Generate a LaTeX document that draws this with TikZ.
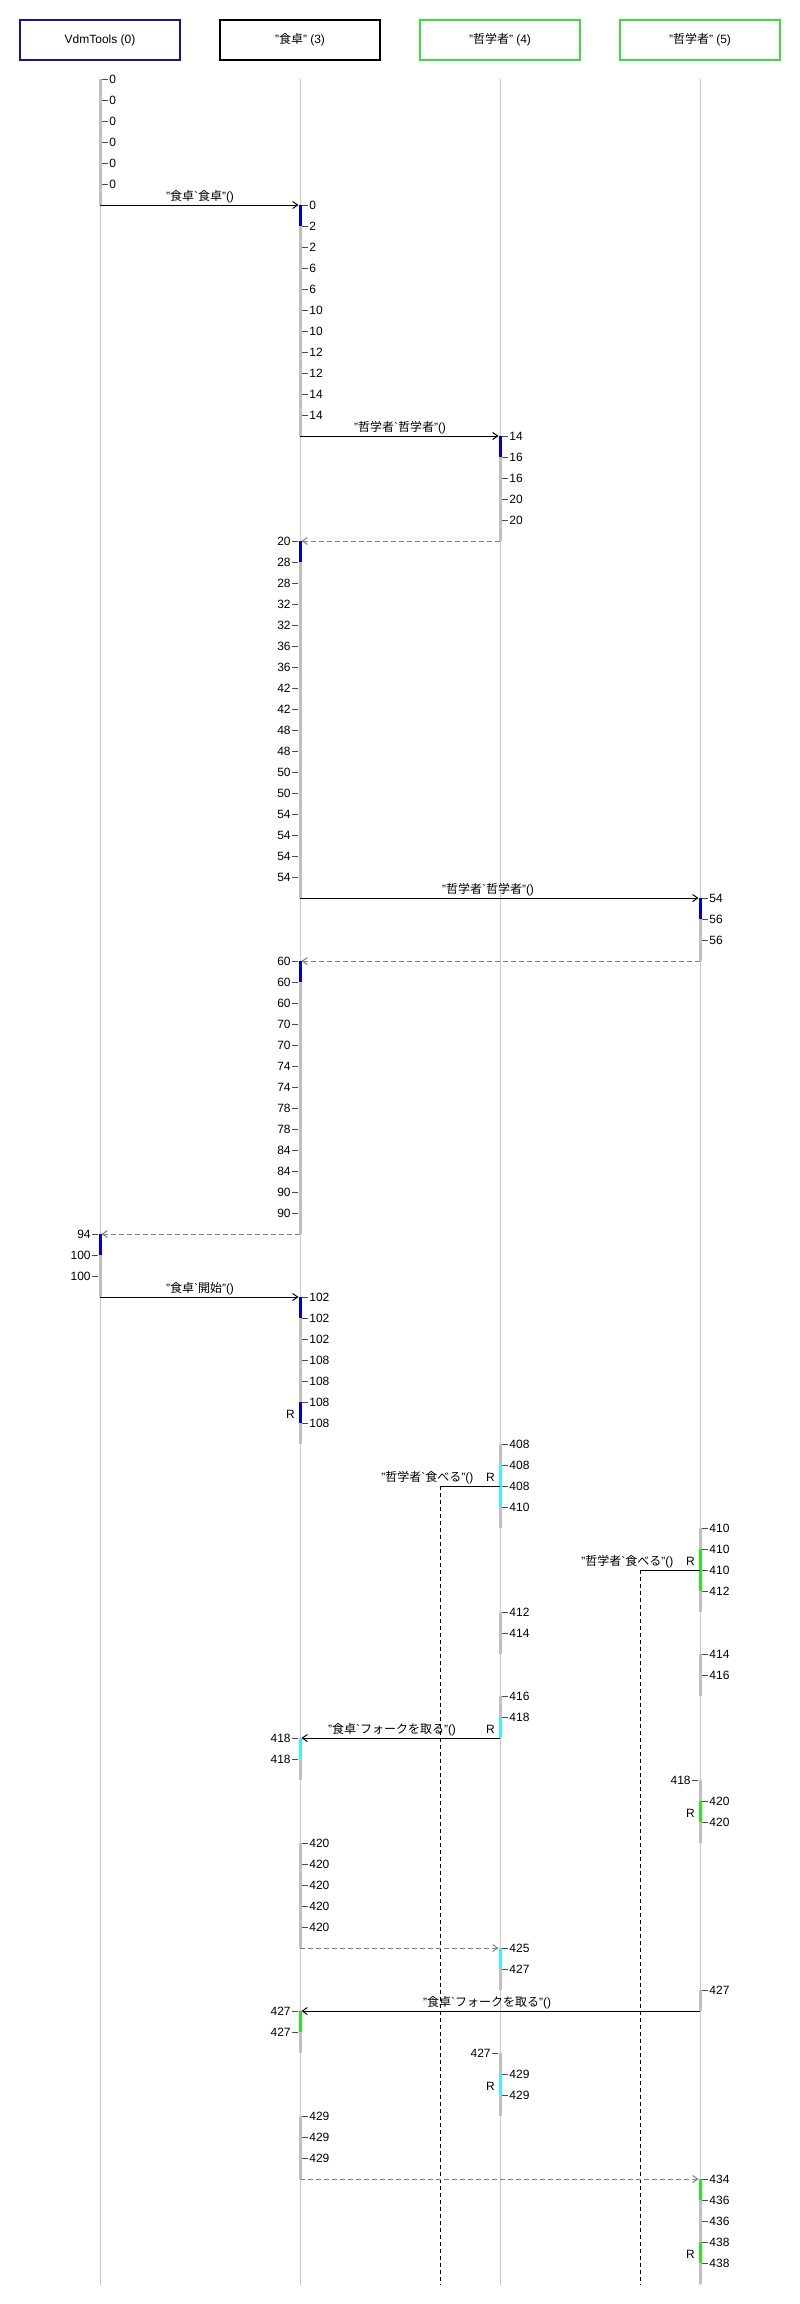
\documentclass[tikz,border=0pt]{standalone}
\usepackage{fontspec}
\defaultfontfeatures{}
\setmainfont{Liberation Sans}
\newfontfamily\jpfont{Noto Sans CJK JP}
\usetikzlibrary{arrows.meta}

\definecolor{hdblue}{RGB}{20,20,160}
\definecolor{hdgreen}{RGB}{60,220,60}
\definecolor{actblue}{RGB}{0,0,204}
\definecolor{actcyan}{RGB}{64,238,255}
\definecolor{actgreen}{RGB}{40,228,30}
\definecolor{lifegray}{RGB}{200,200,200}
\definecolor{bargray}{RGB}{192,192,192}
\definecolor{retgray}{RGB}{128,128,128}

\newcommand{\jp}[1]{{\jpfont #1}}
\newcommand{\rowy}[1]{79+21*(#1)}
% Zeitmarke rechts / links einer Lebenslinie
\newcommand{\tickr}[3]{\draw[tk] (#1+2,{\rowy{#2}}) -- (#1+8,{\rowy{#2}}) node[lbl, anchor=west] (tr#1k#2) {#3};}
\newcommand{\tickl}[3]{\draw[tk] (#1-2,{\rowy{#2}}) -- (#1-8,{\rowy{#2}}) node[lbl, anchor=east] (tl#1k#2) {#3};}
\newcommand{\seg}[4]{\draw[#1] (#2,{\rowy{#3}}) -- (#2,{\rowy{#4}});}
\newcommand{\rmark}[2]{\node[lbl, anchor=east] (r#1k#2) at (#1-4,{\rowy{#2+0.6}}) {R};}

\begin{document}
\begin{tikzpicture}[x=1pt, y=-1pt, font={\fontsize{12}{14}\selectfont},
    head/.style={draw, line width=2pt, minimum width=160pt, minimum height=40pt, inner sep=0pt},
    life/.style={draw=lifegray, line width=1pt},
    idle/.style={draw=bargray, line width=3pt},
    act/.style={line width=3pt},
    tk/.style={draw=black!70, line width=0.8pt},
    lbl/.style={inner sep=1pt},
    msg/.style={inner sep=1.5pt, anchor=south},
    call/.style={draw=black, line width=1pt, -{Straight Barb[length=5pt, width=7pt]}},
    invoke/.style={draw=black, line width=1pt},
    ret/.style={draw=retgray, line width=1pt, dash pattern=on 5pt off 3pt, -{Straight Barb[length=5pt, width=7pt]}},
    async/.style={draw=black, line width=1pt, dash pattern=on 4pt off 3pt}
  ]
  \path[fill=white] (0,0) rectangle (800,2304);
  \useasboundingbox (0,0) rectangle (800,2304);

  % Kopfkaesten
  \node[head, draw=hdblue]  (ha) at (100,40) {VdmTools (0)};
  \node[head, draw=black]   (hb) at (300,40) {"\jp{食卓}" (3)};
  \node[head, draw=hdgreen] (hc) at (500,40) {"\jp{哲学者}" (4)};
  \node[head, draw=hdgreen] (hd) at (700,40) {"\jp{哲学者}" (5)};

  % Lebenslinien
  \foreach \n/\x in {a/100, b/300, c/500, d/700} {
    \coordinate (top\n) at (\x,79);
    \coordinate (end\n) at (\x,2285);
    \draw[life] (top\n) -- (end\n);
  }

  % VdmTools (0)
  \seg{idle}{100}{0}{6}
  \seg{idle}{100}{55}{58}
  \seg{act, actblue}{100}{55}{56}
  \foreach \k in {0,...,5} {\tickr{100}{\k}{0}}
  \foreach \k/\v in {55/94, 56/100, 57/100} {\tickl{100}{\k}{\v}}

  % "食卓" (3)
  \seg{idle}{300}{6}{17}
  \seg{act, actblue}{300}{6}{7}
  \foreach \k/\v in {6/0, 7/2, 8/2, 9/6, 10/6, 11/10, 12/10, 13/12, 14/12, 15/14, 16/14} {\tickr{300}{\k}{\v}}
  \seg{idle}{300}{22}{39}
  \seg{act, actblue}{300}{22}{23}
  \foreach \k/\v in {22/20, 23/28, 24/28, 25/32, 26/32, 27/36, 28/36, 29/42, 30/42, 31/48, 32/48, 33/50, 34/50, 35/54, 36/54, 37/54, 38/54} {\tickl{300}{\k}{\v}}
  \seg{idle}{300}{42}{55}
  \seg{act, actblue}{300}{42}{43}
  \foreach \k/\v in {42/60, 43/60, 44/60, 45/70, 46/70, 47/74, 48/74, 49/78, 50/78, 51/84, 52/84, 53/90, 54/90} {\tickl{300}{\k}{\v}}
  \seg{idle}{300}{58}{65}
  \seg{act, actblue}{300}{58}{59}
  \seg{act, actblue}{300}{63}{64}
  \rmark{300}{63}
  \foreach \k/\v in {58/102, 59/102, 60/102, 61/108, 62/108, 63/108, 64/108} {\tickr{300}{\k}{\v}}
  \seg{idle}{300}{79}{81}
  \seg{act, actcyan}{300}{79}{80}
  \foreach \k in {79, 80} {\tickl{300}{\k}{418}}
  \seg{idle}{300}{84}{89}
  \foreach \k in {84,...,88} {\tickr{300}{\k}{420}}
  \seg{idle}{300}{92}{94}
  \seg{act, actgreen}{300}{92}{93}
  \foreach \k in {92, 93} {\tickl{300}{\k}{427}}
  \seg{idle}{300}{97}{100}
  \foreach \k in {97, 98, 99} {\tickr{300}{\k}{429}}

  % "哲学者" (4)
  \seg{idle}{500}{17}{22}
  \seg{act, actblue}{500}{17}{18}
  \foreach \k/\v in {17/14, 18/16, 19/16, 20/20, 21/20} {\tickr{500}{\k}{\v}}
  \seg{idle}{500}{65}{69}
  \seg{act, actcyan}{500}{66}{68}
  \rmark{500}{66}
  \foreach \k/\v in {65/408, 66/408, 67/408, 68/410} {\tickr{500}{\k}{\v}}
  \seg{idle}{500}{73}{75}
  \foreach \k/\v in {73/412, 74/414} {\tickr{500}{\k}{\v}}
  \seg{idle}{500}{77}{79}
  \seg{act, actcyan}{500}{78}{79}
  \rmark{500}{78}
  \foreach \k/\v in {77/416, 78/418} {\tickr{500}{\k}{\v}}
  \seg{idle}{500}{89}{91}
  \seg{act, actcyan}{500}{89}{90}
  \foreach \k/\v in {89/425, 90/427} {\tickr{500}{\k}{\v}}
  \seg{idle}{500}{94}{97}
  \seg{act, actcyan}{500}{95}{96}
  \rmark{500}{95}
  \tickl{500}{94}{427}
  \foreach \k in {95, 96} {\tickr{500}{\k}{429}}

  % "哲学者" (5)
  \seg{idle}{700}{39}{42}
  \seg{act, actblue}{700}{39}{40}
  \foreach \k/\v in {39/54, 40/56, 41/56} {\tickr{700}{\k}{\v}}
  \seg{idle}{700}{69}{73}
  \seg{act, actgreen}{700}{70}{72}
  \rmark{700}{70}
  \foreach \k/\v in {69/410, 70/410, 71/410, 72/412} {\tickr{700}{\k}{\v}}
  \seg{idle}{700}{75}{77}
  \foreach \k/\v in {75/414, 76/416} {\tickr{700}{\k}{\v}}
  \seg{idle}{700}{81}{84}
  \seg{act, actgreen}{700}{82}{83}
  \rmark{700}{82}
  \tickl{700}{81}{418}
  \foreach \k in {82, 83} {\tickr{700}{\k}{420}}
  \seg{idle}{700}{91}{92}
  \tickr{700}{91}{427}
  \seg{idle}{700}{100}{105}
  \seg{act, actgreen}{700}{100}{101}
  \seg{act, actgreen}{700}{103}{104}
  \rmark{700}{103}
  \foreach \k/\v in {100/434, 101/436, 102/436, 103/438, 104/438} {\tickr{700}{\k}{\v}}

  % Nachrichten
  \coordinate (m1s) at (100,{\rowy{6}});   \coordinate (m1e) at (298.5,{\rowy{6}});
  \coordinate (m2s) at (300,{\rowy{17}});  \coordinate (m2e) at (498.5,{\rowy{17}});
  \coordinate (m3s) at (500,{\rowy{22}});  \coordinate (m3e) at (301.5,{\rowy{22}});
  \coordinate (m4s) at (300,{\rowy{39}});  \coordinate (m4e) at (698.5,{\rowy{39}});
  \coordinate (m5s) at (700,{\rowy{42}});  \coordinate (m5e) at (301.5,{\rowy{42}});
  \coordinate (m6s) at (300,{\rowy{55}});  \coordinate (m6e) at (101.5,{\rowy{55}});
  \coordinate (m7s) at (100,{\rowy{58}});  \coordinate (m7e) at (298.5,{\rowy{58}});
  \coordinate (m8s) at (440,{\rowy{67}});  \coordinate (m8e) at (500,{\rowy{67}});
  \coordinate (m9s) at (640,{\rowy{71}});  \coordinate (m9e) at (700,{\rowy{71}});
  \coordinate (m10s) at (500,{\rowy{79}}); \coordinate (m10e) at (301.5,{\rowy{79}});
  \coordinate (m11s) at (300,{\rowy{89}}); \coordinate (m11e) at (498.5,{\rowy{89}});
  \coordinate (m12s) at (700,{\rowy{92}}); \coordinate (m12e) at (301.5,{\rowy{92}});
  \coordinate (m13s) at (300,{\rowy{100}}); \coordinate (m13e) at (698.5,{\rowy{100}});
  \coordinate (w8) at (440,2285);
  \coordinate (w9) at (640,2285);

  \draw[call] (m1s) -- (m1e);
  \node[msg] (l1) at (200,{\rowy{6}}) {"\jp{食卓}\textasciigrave\jp{食卓}"()};
  \draw[call] (m2s) -- (m2e);
  \node[msg] (l2) at (400,{\rowy{17}}) {"\jp{哲学者}\textasciigrave\jp{哲学者}"()};
  \draw[ret] (m3s) -- (m3e);
  \draw[call] (m4s) -- (m4e);
  \node[msg] (l4) at (488,{\rowy{39}}) {"\jp{哲学者}\textasciigrave\jp{哲学者}"()};
  \draw[ret] (m5s) -- (m5e);
  \draw[ret] (m6s) -- (m6e);
  \draw[call] (m7s) -- (m7e);
  \node[msg] (l7) at (200,{\rowy{58}}) {"\jp{食卓}\textasciigrave\jp{開始}"()};

  % asynchrone Aufrufe
  \draw[invoke] (m8s) -- (m8e);
  \draw[async] (m8s) -- (w8);
  \node[msg, anchor=south east] (l8) at (475,{\rowy{67}}) {"\jp{哲学者}\textasciigrave\jp{食べる}"()};
  \draw[invoke] (m9s) -- (m9e);
  \draw[async] (m9s) -- (w9);
  \node[msg, anchor=south east] (l9) at (675,{\rowy{71}}) {"\jp{哲学者}\textasciigrave\jp{食べる}"()};

  \draw[call] (m10s) -- (m10e);
  \node[msg] (l10) at (392,{\rowy{79}}) {"\jp{食卓}\textasciigrave\jp{フォークを取る}"()};
  \draw[ret] (m11s) -- (m11e);
  \draw[call] (m12s) -- (m12e);
  \node[msg] (l12) at (487,{\rowy{92}}) {"\jp{食卓}\textasciigrave\jp{フォークを取る}"()};
  \draw[ret] (m13s) -- (m13e);
\end{tikzpicture}
\end{document}
